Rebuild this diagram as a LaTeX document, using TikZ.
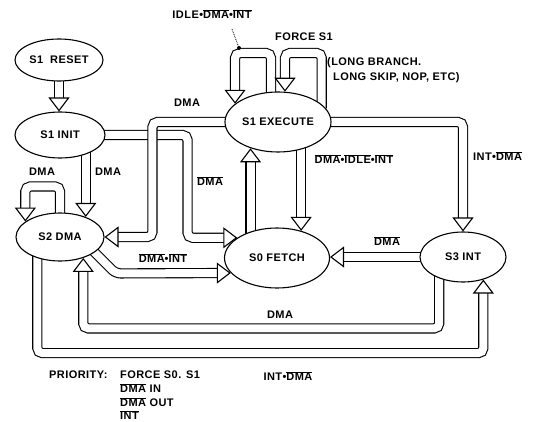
\documentclass[tikz,border=0pt]{standalone}
\usepackage{fontspec}
\setmainfont{Liberation Sans}[LetterSpace=4]
\usetikzlibrary{shapes.geometric,arrows.meta}
\pgfdeclarelayer{bg}
\pgfsetlayers{bg,main}
\newcommand\nbar[1]{$\overline{\mbox{#1}}$}
\newcommand\warrow[1]{\draw[wbody] #1; \draw[whead] #1;}
\tikzset{
  state/.style={ellipse,draw,line width=1.1pt,fill=white,inner sep=0pt,
    font=\fontsize{11}{13}\selectfont\bfseries},
  lbl/.style={inner sep=0pt,font=\fontsize{11}{13}\selectfont\bfseries,
    text height=7.9pt,text depth=0pt},
  wbody/.style={double=white,double distance=8pt,line width=1.1pt,rounded corners=5pt,
    shorten <=-4pt,shorten >=12pt},
  whead/.style={draw=white,line width=0.01pt,rounded corners=5pt,
    -{Triangle[length=14pt,width=21pt,color=black,fill=white,line width=1.1pt]}}
}
\begin{document}
\begin{tikzpicture}[x=1pt,y=-1pt]
  \useasboundingbox (0,0) rectangle (535,422);
  \node[state,minimum width=88pt,minimum height=42pt] (reset) at (59,60) {S1~~RESET};
  \node[state,minimum width=90pt,minimum height=46pt] (init) at (60,135) {S1 INIT};
  \node[state,minimum width=106pt,minimum height=60pt] (exec) at (278,122) {S1 EXECUTE};
  \node[state,minimum width=88pt,minimum height=48pt] (dma) at (60,237) {S2 DMA};
  \node[state,minimum width=105pt,minimum height=60pt] (fetch) at (277,258) {S0 FETCH};
  \node[state,minimum width=86pt,minimum height=50pt] (int) at (463,257) {S3 INT};

  \begin{pgfonlayer}{bg}
    \warrow{(reset.south) -- (reset.south |- init.north)}
    \warrow{(init.-37) -- (init.-37 |- dma.38)}
    \warrow{(init.east) -- ++(82,0) |- (fetch.153)}
    \warrow{(exec.west) -- ++(-72,0) |- (dma.east)}
    \warrow{(exec.103) -- (exec.103 |- 0,53) -| (exec.157)}
    \warrow{(exec.22) -- (exec.22 |- 0,53) -| (exec.77)}
    \warrow{(exec.east) -| (int.north)}
    \warrow{(exec.-50) -- (exec.-50 |- fetch.48)}
    \warrow{(fetch.135) -- (fetch.135 |- exec.224)}
    \warrow{(int.west) -- (int.west -| fetch.east)}
    \warrow{(dma.north) -- ++(0,-26) -| (dma.156)}
    \warrow{(dma.-24) -- ++(21,21) -- (fetch.198)}
    \warrow{(int.222) -- ++(0,50) -| (dma.-42)}
    \warrow{(dma.223) -- ++(0,95) -| (int.-48)}
  \end{pgfonlayer}

  \node[lbl] (idle) at (212,15) {IDLE\textbullet\nbar{DMA}\textbullet\nbar{INT}};
  \coordinate (leadtop) at (232,29);
  \coordinate (lead) at (239,48);
  \draw[densely dotted,line width=0.8pt] (leadtop) -- (lead);
  \fill (lead) circle (2pt);
  \node[lbl] (force) at (304,37) {FORCE S1};
  \node[lbl,anchor=west] (longa) at (327,62) {(LONG BRANCH.};
  \node[lbl,anchor=west] (longb) at (333,77) {LONG SKIP, NOP, ETC)};
  \node[lbl] (lexecdma) at (187,103) {DMA};
  \node[lbl] (linitfetch) at (210,182) {\nbar{DMA}};
  \node[lbl] (linitdma) at (108,172) {DMA};
  \node[lbl] (lloop) at (42,172) {DMA};
  \node[lbl] (lexecfetch) at (354,160) {\nbar{DMA}\textbullet\nbar{IDLE}\textbullet\nbar{INT}};
  \node[lbl,anchor=west] (lexecint) at (473,157) {INT\textbullet\nbar{DMA}};
  \node[lbl] (lintfetch) at (387,242) {\nbar{DMA}};
  \node[lbl] (ldmafetch) at (163,259) {\nbar{DMA}\textbullet\nbar{INT}};
  \node[lbl] (lintdma) at (280,315) {DMA};
  \node[lbl] (ldmaint) at (288,377) {INT\textbullet\nbar{DMA}};

  \node[lbl,anchor=west] (prio) at (49,375) {PRIORITY:};
  \node[lbl,anchor=west] (prio1) at (120,375) {FORCE S0. S1};
  \node[lbl,anchor=west] (prio2) at (120,389) {\nbar{DMA} IN};
  \node[lbl,anchor=west] (prio3) at (120,403) {\nbar{DMA} OUT};
  \node[lbl,anchor=west] (prio4) at (120,416) {\nbar{INT}};
\end{tikzpicture}
\end{document}
